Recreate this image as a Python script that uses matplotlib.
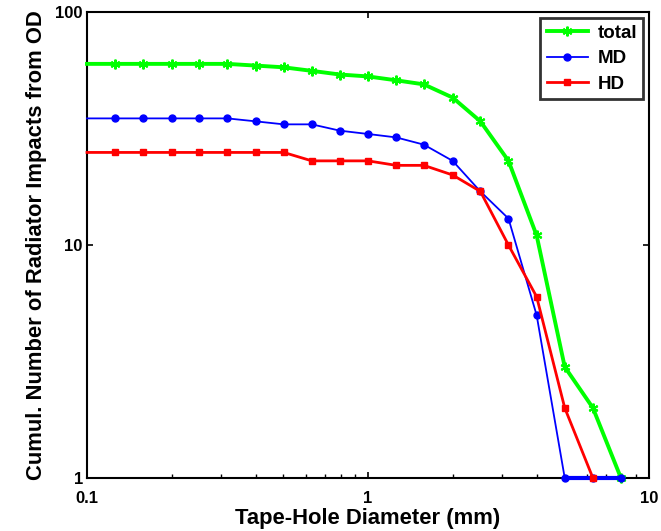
import numpy as np
from matplotlib import pyplot as plt
from matplotlib.ticker import LogLocator, NullFormatter, FixedLocator, FixedFormatter

# tape-hole diameter (mm), 10 points per decade
diam = [0.1, 0.126, 0.158, 0.2, 0.251, 0.316, 0.398, 0.501, 0.631, 0.794,
        1.0, 1.26, 1.58, 2.0, 2.51, 3.16, 3.98, 5.01, 6.31, 7.94]

md = [35, 35, 35, 35, 35, 35, 34, 33, 33, 31,
      30, 29, 27, 23, 17, 13, 5, 1, 1, 1]
hd = [25, 25, 25, 25, 25, 25, 25, 25, 23, 23,
      23, 22, 22, 20, 17, 10, 6, 2, 1, np.nan]
total = [60, 60, 60, 60, 60, 60, 59, 58, 56, 54,
         53, 51, 49, 43, 34, 23, 11, 3, 2, 1]

plt.rcParams['font.family'] = ['Liberation Sans', 'DejaVu Sans']
plt.rcParams['font.weight'] = 'bold'

fig = plt.figure(figsize=(6.61, 5.31), dpi=100)
ax = fig.add_axes([0.1316, 0.0998, 0.8504, 0.8772])

mk = slice(1, None)
ax.plot(diam, total, color='#00ff00', lw=2.8, marker=(6, 2, 0), ms=7, mew=1.5,
        markevery=mk, clip_on=False, zorder=3, label='total')
ax.plot(diam, md, color='#0000ff', lw=1.3, marker='.', ms=10,
        markevery=mk, clip_on=False, zorder=3.1, label='MD')
ax.plot(diam, hd, color='#ff0000', lw=2.0, marker='s', ms=4,
        markevery=mk, clip_on=False, zorder=3.2, label='HD')
# the MD tail lies on the bottom axis, drawn thick in the reference
ax.plot(diam[-3:], md[-3:], color='#0000ff', lw=3, clip_on=False, zorder=3.05)

ax.set_xscale('log')
ax.set_yscale('log')
ax.set_xlim(0.1, 10)
ax.set_ylim(1, 100)

ax.xaxis.set_major_locator(FixedLocator([0.1, 1, 10]))
ax.xaxis.set_major_formatter(FixedFormatter(['0.1', '1', '10']))
ax.xaxis.set_minor_locator(LogLocator(base=10, subs=np.arange(2, 10)))
ax.xaxis.set_minor_formatter(NullFormatter())
ax.yaxis.set_major_locator(FixedLocator([1, 10, 100]))
ax.yaxis.set_major_formatter(FixedFormatter(['1', '10', '100']))
ax.yaxis.set_minor_locator(FixedLocator([]))

ax.tick_params(which='major', direction='in', length=4, width=1.2,
               top=True, right=True, labelsize=12, pad=3)
ax.tick_params(axis='x', which='major', pad=9)
ax.tick_params(which='minor', direction='in', length=3, width=1,
               top=False, right=False)
for s in ax.spines.values():
    s.set_linewidth(1.5)

ax.set_xlabel('Tape-Hole Diameter (mm)', fontsize=15.8, fontweight='bold', labelpad=2)
ax.set_ylabel('Cumul. Number of Radiator Impacts from OD', fontsize=15.8,
              fontweight='bold', labelpad=6)

leg = ax.legend(loc='upper right', fontsize=13.5, frameon=True, fancybox=False,
                handlelength=2.2, handletextpad=0.5, borderaxespad=0.3,
                labelspacing=0.45, borderpad=0.35)
leg.get_frame().set_edgecolor('black')
leg.get_frame().set_linewidth(2)
for t in leg.get_texts():
    t.set_fontweight('bold')

plt.savefig('out.png', dpi=100)
